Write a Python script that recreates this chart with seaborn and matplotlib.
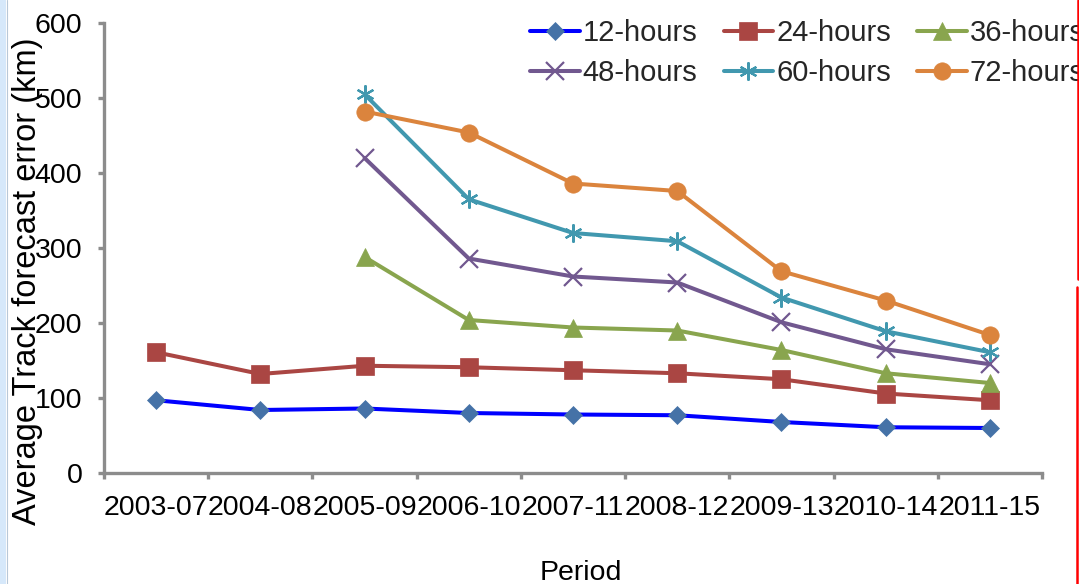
import numpy as np
import pandas as pd
import matplotlib
matplotlib.use("Agg")
import matplotlib.pyplot as plt
from matplotlib.lines import Line2D
from matplotlib.patches import Rectangle
import seaborn as sns

# Forecast periods (x axis categories)
periods = ["2003-07", "2004-08", "2005-09", "2006-10", "2007-11",
           "2008-12", "2009-13", "2010-14", "2011-15"]

# Average track forecast error (km) per lead time; NaN = no data for the period
err_12h = [97, 84, 86, 80, 78, 77, 68, 61, 60]
err_24h = [161, 132, 143, 141, 137, 133, 125, 106, 97]
err_36h = [np.nan, np.nan, 288, 204, 194, 190, 164, 133, 120]
err_48h = [np.nan, np.nan, 420, 286, 262, 254, 201, 165, 145]
err_60h = [np.nan, np.nan, 505, 365, 320, 309, 234, 189, 161]
err_72h = [np.nan, np.nan, 482, 454, 386, 376, 269, 230, 184]

series_names = ["12-hours", "24-hours", "36-hours", "48-hours", "60-hours", "72-hours"]
series_values = [err_12h, err_24h, err_36h, err_48h, err_60h, err_72h]

y_ticks = [0, 100, 200, 300, 400, 500, 600]

# line colour, marker face colour, marker, marker size
styles = {
    "12-hours": dict(color="#0000FF", mfc="#4572A7", marker="D", ms=9.5),
    "24-hours": dict(color="#AA4643", mfc="#AA4643", marker="s", ms=13),
    "36-hours": dict(color="#89A54E", mfc="#89A54E", marker="^", ms=13),
    "48-hours": dict(color="#71588F", mfc="#71588F", marker="x", ms=13),
    "60-hours": dict(color="#4198AF", mfc="#4198AF", marker=(6, 2, 0), ms=13),
    "72-hours": dict(color="#DB843D", mfc="#DB843D", marker="o", ms=12.5),
}

sns.set_theme(style="white")
plt.rcParams["font.family"] = ["Liberation Sans", "DejaVu Sans"]

W, H = 1079, 584
fig = plt.figure(figsize=(W / 100, H / 100), dpi=100)
ax = fig.add_axes([104 / W, 1 - 473 / H, (1042 - 104) / W, (473 - 23) / H])

x_pos = np.arange(len(periods))
for name, vals in zip(series_names, series_values):
    st = styles[name]
    df = pd.DataFrame({"x": x_pos, "y": vals}).dropna()
    line_marker = st["marker"]
    open_marker = line_marker == "x" or isinstance(line_marker, tuple)
    sns.lineplot(
        data=df, x="x", y="y", ax=ax, label=name,
        color=st["color"], linewidth=2.9,
        marker=line_marker, markersize=st["ms"],
        markerfacecolor=st["mfc"],
        markeredgecolor=st["mfc"],
        markeredgewidth=1.6 if open_marker else 0.5,
    )

# Axes styling
ax.set_xlim(-0.5, len(periods) - 0.5)
ax.set_ylim(0, 600)
ax.set_yticks(y_ticks)
ax.set_xticks(x_pos)
ax.set_xticklabels(periods)
ax.set_xticks(np.arange(-0.5, len(periods)), minor=True)
ax.set_xlabel("")
ax.set_ylabel("")

axis_grey = "#8C8C8C"
for side in ("top", "right"):
    ax.spines[side].set_visible(False)
for side in ("left", "bottom"):
    ax.spines[side].set_color(axis_grey)
    ax.spines[side].set_linewidth(2.4)

ax.tick_params(axis="y", which="major", direction="out", length=4.5, width=2.4,
               color=axis_grey, labelsize=20.5, pad=11, labelcolor="black", left=True)
ax.tick_params(axis="x", which="major", length=0, labelsize=20.5, pad=16, labelcolor="black")
ax.tick_params(axis="x", which="minor", direction="out", length=4.5, width=2.4,
               color=axis_grey, bottom=True)
ax.grid(False)

# Legend: three columns, filled row by row
handles, labels = ax.get_legend_handles_labels()
order = [0, 3, 1, 4, 2, 5]
ax.legend([handles[i] for i in order], [labels[i] for i in order],
          ncol=3, frameon=False, fontsize=21,
          loc="upper left", bbox_to_anchor=(530 / W, 1 - 19 / H),
          bbox_transform=fig.transFigure,
          handlelength=1.7, handletextpad=0.1, columnspacing=0.9,
          labelspacing=0.41, borderaxespad=0, borderpad=0)

# Axis titles
fig.text(28 / W, 1 - 281 / H, "Average Track forecast error (km)",
         rotation=90, ha="center", va="center", fontsize=23.5, color="black")
fig.text(581 / W, 1 - 573 / H, "Period", ha="center", va="center",
         fontsize=20.5, color="black")

# Page edges: light blue strip on the left, red rule on the right
fig.add_artist(Rectangle((0, 0), 6 / W, 1, transform=fig.transFigure,
                         facecolor="#D6E8FA", edgecolor="none"))
fig.add_artist(Line2D([6.5 / W, 6.5 / W], [0, 1], transform=fig.transFigure,
                      color="#B8C8D8", linewidth=0.8))
fig.add_artist(Line2D([1078 / W, 1078 / W], [1, 1 - 279 / H], transform=fig.transFigure,
                      color="#FF0000", linewidth=1.8))
fig.add_artist(Line2D([1076.5 / W, 1076.5 / W], [1 - 287 / H, 0], transform=fig.transFigure,
                      color="#FF0000", linewidth=1.8))

fig.savefig("out.png", dpi=100)
